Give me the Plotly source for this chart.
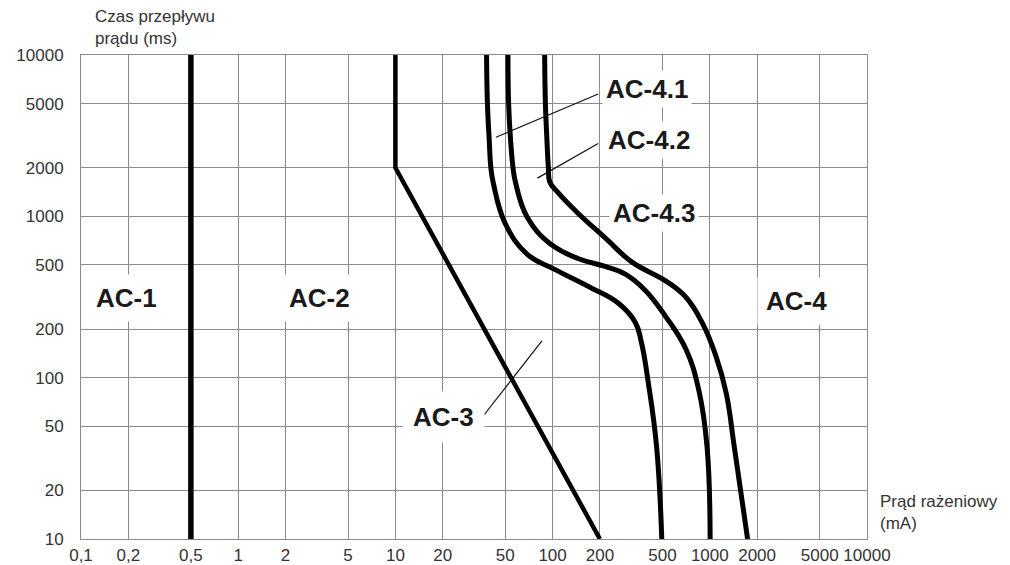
import numpy as np
import plotly.graph_objects as go

# ---- data ----
x_ticks = [0.1, 0.2, 0.5, 1, 2, 5, 10, 20, 50, 100, 200, 500, 1000, 2000, 5000, 10000]
x_tick_text = ["0,1", "0,2", "0,5", "1", "2", "5", "10", "20", "50", "100", "200",
               "500", "1000", "2000", "5000", "10000"]
y_ticks = [10, 20, 50, 100, 200, 500, 1000, 2000, 5000, 10000]
y_tick_text = ["10", "20", "50", "100", "200", "500", "1000", "2000", "5000", "10000"]

# boundary a (AC-1 / AC-2)
a_x = [0.5, 0.5]
a_y = [10, 10000]
# boundary b (AC-2 / AC-3)
b_x = [10, 10, 200]
b_y = [10000, 2000, 10]
# c1 (AC-4.1)
c1_x = [38, 38.5, 39.5, 40.5, 42, 50, 69, 103, 175, 261, 336, 367, 407, 459, 495]
c1_y = [10000, 5000, 3000, 2000, 1600, 900, 582, 469, 361, 290, 220, 166, 92, 37, 10]
# c2 (AC-4.2)
c2_x = [52, 52.5, 54, 56, 58, 69, 97, 145, 216, 290, 389, 524, 705, 853, 961, 1005]
c2_y = [10000, 5000, 3000, 2000, 1633, 986, 673, 548, 489, 438, 347, 239, 150, 83, 37, 10]
# c3 (AC-4.3)
c3_x = [89, 90, 92, 94, 96, 108, 145, 216, 320, 524, 705, 893, 1097, 1272, 1433, 1740]
c3_y = [10000, 5000, 3000, 2000, 1633, 1406, 1045, 735, 520, 398, 315, 220, 135, 80, 37, 10]

# zone labels
zone_text = ["AC-1", "AC-2", "AC-4"]
zone_x = [0.194, 3.29, 3570]
zone_y = [310, 310, 297]

# pointer labels and their leader lines
ptr_text = ["AC-4.1", "AC-4.2", "AC-4.3", "AC-3"]
ptr_x = [400, 411, 443, 20.3]
ptr_y = [6160, 2958, 1045, 57.4]
leader_x0 = [43.6, 80, 36.7]
leader_y0 = [3090, 1725, 58.9]
leader_x1 = [195, 195, 85.5]
leader_y1 = [5730, 2830, 169]

fig = go.Figure()

for lx0, ly0, lx1, ly1 in zip(leader_x0, leader_y0, leader_x1, leader_y1):
    fig.add_trace(go.Scatter(x=[lx0, lx1], y=[ly0, ly1], mode="lines",
                             line=dict(color="#111111", width=1.2),
                             hoverinfo="skip", showlegend=False))

fig.add_trace(go.Scatter(x=a_x, y=a_y, mode="lines",
                         line=dict(color="black", width=5.5), showlegend=False))
fig.add_trace(go.Scatter(x=b_x, y=b_y, mode="lines",
                         line=dict(color="black", width=4.5), showlegend=False))
for cx, cy in [(c1_x, c1_y), (c2_x, c2_y), (c3_x, c3_y)]:
    fig.add_trace(go.Scatter(x=cx, y=cy, mode="lines",
                             line=dict(color="black", width=5, shape="spline", smoothing=1.2),
                             showlegend=False))

annotations = []
for t, x, y in zip(zone_text, zone_x, zone_y):
    annotations.append(dict(x=np.log10(x), y=np.log10(y), xref="x", yref="y",
                            text="<b>" + t + "</b>",
                            showarrow=False, bgcolor="white", borderpad=8,
                            font=dict(family="Liberation Sans", size=26, color="#1a1a1a"),
                            xanchor="center", yanchor="middle"))
for t, x, y in zip(ptr_text, ptr_x, ptr_y):
    annotations.append(dict(x=np.log10(x), y=np.log10(y), xref="x", yref="y",
                            text="<b>" + t + "</b>",
                            showarrow=False, bgcolor="white",
                            borderpad=10 if t == "AC-3" else 3,
                            font=dict(family="Liberation Sans", size=26, color="#1a1a1a"),
                            xanchor="center", yanchor="middle"))

annotations.append(dict(x=0.0153, y=1.103, xref="paper", yref="paper",
                        text="Czas przepływu<br>prądu (ms)", showarrow=False,
                        xanchor="left", yanchor="top", align="left",
                        font=dict(family="Liberation Sans", size=17, color="#333333")))
annotations.append(dict(x=1.014, y=0.054, xref="paper", yref="paper",
                        text="Prąd rażeniowy<br>(mA)", showarrow=False,
                        xanchor="left", yanchor="middle", align="left",
                        font=dict(family="Liberation Sans", size=17, color="#333333")))

fig.update_layout(
    width=1010, height=565,
    margin=dict(l=81, r=143, t=55, b=26, autoexpand=False),
    plot_bgcolor="white", paper_bgcolor="white",
    annotations=annotations,
    font=dict(family="Liberation Sans", size=17, color="#333333"),
)
fig.update_xaxes(type="log", range=[-1, 4], tickvals=x_ticks, ticktext=x_tick_text,
                 showgrid=True, gridcolor="#8a8a8a", gridwidth=1,
                 showline=True, linecolor="#8a8a8a", linewidth=1, mirror=True,
                 ticks="outside", ticklen=1, tickcolor="rgba(0,0,0,0)",
                 zeroline=False, automargin=False,
                 tickfont=dict(family="Liberation Sans", size=17, color="#333333"))
fig.update_yaxes(type="log", range=[1, 4], tickvals=y_ticks, ticktext=y_tick_text,
                 showgrid=True, gridcolor="#8a8a8a", gridwidth=1,
                 showline=True, linecolor="#8a8a8a", linewidth=1, mirror=True,
                 ticks="outside", ticklen=13, tickcolor="rgba(0,0,0,0)",
                 zeroline=False, automargin=False,
                 tickfont=dict(family="Liberation Sans", size=17, color="#333333"))

fig.write_html("out.html", config={"displayModeBar": False},
               post_script="document.body.style.margin='0';document.body.style.overflow='hidden';")
